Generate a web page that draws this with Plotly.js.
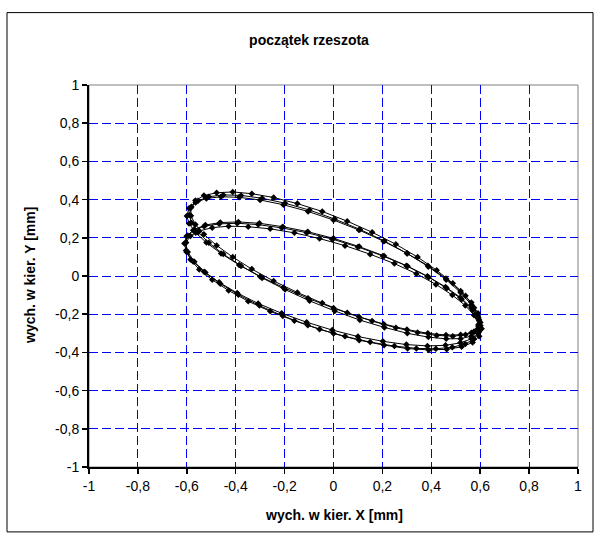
<!DOCTYPE html>
<html>
<head>
<meta charset="utf-8">
<script src="https://cdn.plot.ly/plotly-3.0.1.min.js"></script>
<style>html,body{margin:0;padding:0;background:#fff;}#chart{width:596px;height:536px;}</style>
</head>
<body>
<div id="chart"></div>
<script>
// Loop 1 (upper ellipse) - three passes
const loop1aX = [0.600,0.591,0.564,0.520,0.461,0.388,0.302,0.208,0.108,0.005,-0.098,-0.198,-0.292,-0.378,-0.451,-0.510,-0.554,-0.581,-0.590,-0.581,-0.554,-0.510,-0.451,-0.378,-0.292,-0.198,-0.098,0.005,0.108,0.208,0.302,0.388,0.461,0.520,0.564,0.591,0.600];
const loop1aY = [-0.260,-0.292,-0.315,-0.328,-0.329,-0.320,-0.300,-0.269,-0.231,-0.183,-0.130,-0.071,-0.010,0.053,0.115,0.174,0.229,0.279,0.320,0.362,0.394,0.415,0.4245,0.422,0.407,0.381,0.345,0.298,0.244,0.183,0.1175,0.049,-0.019,-0.087,-0.1505,-0.209,-0.260];
const loop1bX = [0.593,0.575,0.540,0.488,0.422,0.344,0.255,0.158,0.056,-0.046,-0.148,-0.245,-0.334,-0.412,-0.478,-0.530,-0.565,-0.583,-0.583,-0.565,-0.530,-0.478,-0.412,-0.334,-0.245,-0.148,-0.046,0.056,0.158,0.255,0.344,0.422,0.488,0.540,0.575,0.593,0.593];
const loop1bY = [-0.262,-0.290,-0.308,-0.315,-0.311,-0.296,-0.271,-0.236,-0.193,-0.142,-0.086,-0.026,0.036,0.099,0.160,0.218,0.270,0.315,0.357,0.395,0.421,0.436,0.440,0.431,0.411,0.379,0.338,0.287,0.229,0.166,0.099,0.030,-0.038,-0.104,-0.166,-0.220,-0.262];
const loop1cX = [0.600,0.591,0.564,0.520,0.460,0.386,0.300,0.205,0.104,0.000,-0.104,-0.205,-0.300,-0.386,-0.460,-0.520,-0.564,-0.591,-0.600,-0.591,-0.564,-0.520,-0.460,-0.386,-0.300,-0.205,-0.104,0.000,0.104,0.205,0.300,0.386,0.460,0.520,0.564,0.591,0.600];
const loop1cY = [-0.244,-0.275,-0.297,-0.308,-0.309,-0.300,-0.280,-0.251,-0.214,-0.168,-0.117,-0.060,-0.002,0.058,0.118,0.175,0.227,0.275,0.314,0.355,0.385,0.406,0.415,0.412,0.398,0.373,0.338,0.293,0.241,0.182,0.119,0.054,-0.013,-0.078,-0.139,-0.195,-0.244];
// Loop 2 (lower ellipse) - three passes
const loop2aX = [0.600,0.591,0.564,0.519,0.458,0.384,0.298,0.202,0.100,-0.005,-0.110,-0.212,-0.308,-0.394,-0.468,-0.529,-0.574,-0.601,-0.610,-0.601,-0.574,-0.529,-0.468,-0.394,-0.308,-0.212,-0.110,-0.005,0.100,0.202,0.298,0.384,0.458,0.519,0.564,0.591,0.600];
const loop2aY = [-0.260,-0.298,-0.329,-0.350,-0.363,-0.366,-0.359,-0.342,-0.317,-0.283,-0.242,-0.195,-0.144,-0.089,-0.033,0.022,0.076,0.126,0.170,0.208,0.239,0.260,0.273,0.276,0.269,0.252,0.227,0.193,0.152,0.105,0.054,-0.001,-0.057,-0.112,-0.166,-0.215,-0.260];
const loop2bX = [0.593,0.575,0.539,0.486,0.419,0.339,0.249,0.150,0.047,-0.057,-0.160,-0.259,-0.349,-0.429,-0.496,-0.549,-0.585,-0.603,-0.603,-0.585,-0.549,-0.496,-0.429,-0.349,-0.259,-0.160,-0.057,0.047,0.150,0.249,0.339,0.419,0.486,0.539,0.575,0.593,0.593];
const loop2bY = [-0.295,-0.330,-0.356,-0.373,-0.381,-0.379,-0.367,-0.346,-0.316,-0.279,-0.234,-0.185,-0.132,-0.076,-0.020,0.034,0.086,0.134,0.175,0.210,0.236,0.253,0.261,0.258,0.247,0.226,0.196,0.159,0.114,0.065,0.012,-0.044,-0.100,-0.154,-0.206,-0.254,-0.295];
const loop2cX = [0.605,0.596,0.569,0.524,0.463,0.389,0.303,0.207,0.105,0.000,-0.105,-0.207,-0.303,-0.389,-0.463,-0.524,-0.569,-0.596,-0.605,-0.596,-0.569,-0.524,-0.463,-0.389,-0.303,-0.207,-0.105,0.000,0.105,0.207,0.303,0.389,0.463,0.524,0.569,0.596,0.605];
const loop2cY = [-0.276,-0.316,-0.348,-0.371,-0.384,-0.387,-0.380,-0.362,-0.336,-0.301,-0.258,-0.209,-0.155,-0.098,-0.040,0.018,0.074,0.126,0.173,0.212,0.244,0.267,0.280,0.283,0.276,0.258,0.232,0.197,0.154,0.105,0.051,-0.006,-0.064,-0.122,-0.178,-0.230,-0.276];

const tickVals = [-1,-0.8,-0.6,-0.4,-0.2,0,0.2,0.4,0.6,0.8,1];
const tickText = ['-1','-0,8','-0,6','-0,4','-0,2','0','0,2','0,4','0,6','0,8','1'];

const titleText = 'początek rzeszota';
const xTitle = 'wych. w kier. X [mm]';
const yTitle = 'wych. w kier. Y [mm]';

const FONT = 'Liberation Sans, Arial, sans-serif';

function loopTrace(x, y) {
  return {
    x: x, y: y, type: 'scatter', mode: 'lines+markers',
    line: {color: '#000000', width: 1},
    marker: {symbol: 'diamond', size: 5, color: '#000000', line: {width: 0}},
    showlegend: false, hoverinfo: 'skip'
  };
}

const data = [
  loopTrace(loop1aX, loop1aY),
  loopTrace(loop1bX, loop1bY),
  loopTrace(loop1cX, loop1cY),
  loopTrace(loop2aX, loop2aY),
  loopTrace(loop2bX, loop2bY),
  loopTrace(loop2cX, loop2cY)
];

const L = 89, R = 578, T = 84.5, B = 467;
const W = 596, H = 536;
const pw = R - L, ph = B - T;

const axisCommon = {
  range: [-1, 1],
  tickmode: 'array',
  tickvals: tickVals,
  ticktext: tickText,
  ticks: 'outside',
  ticklen: 5,
  tickwidth: 1.5,
  tickcolor: '#000000',
  showline: true,
  linecolor: '#000000',
  linewidth: 2,
  showgrid: true,
  gridcolor: '#0000ff',
  gridwidth: 1,
  griddash: '9px,4px',
  zeroline: false,
  tickfont: {family: FONT, size: 14, color: '#000000'},
  fixedrange: true
};

const layout = {
  width: W, height: H,
  margin: {l: L, r: W - R, t: T, b: H - B, pad: 0},
  paper_bgcolor: '#ffffff',
  plot_bgcolor: '#ffffff',
  font: {family: FONT, color: '#000000'},
  title: {
    text: '<b>' + titleText + '</b>',
    font: {family: FONT, size: 14, color: '#000000'},
    x: 309 / W, xref: 'container', xanchor: 'center',
    y: 1 - 40 / H, yref: 'container', yanchor: 'middle'
  },
  xaxis: Object.assign({}, axisCommon),
  yaxis: Object.assign({}, axisCommon),
  annotations: [
    {text: '<b>' + xTitle + '</b>', xref: 'paper', yref: 'paper',
     x: 0.5, y: (B - 515) / ph, xanchor: 'center', yanchor: 'middle',
     showarrow: false, font: {family: FONT, size: 14, color: '#000000'}},
    {text: '<b>' + yTitle + '</b>', xref: 'paper', yref: 'paper',
     x: (30 - L) / pw, y: 0.5, xanchor: 'center', yanchor: 'middle', textangle: -90,
     showarrow: false, font: {family: FONT, size: 14, color: '#000000'}}
  ],
  shapes: [
    {type: 'rect', xref: 'paper', yref: 'paper', x0: 0, x1: 1, y0: 0, y1: 1,
     line: {color: '#808080', width: 1}, layer: 'below'},
    {type: 'rect', xref: 'paper', yref: 'paper',
     x0: (7 - L) / pw, x1: (593 - L) / pw,
     y0: (B - 532) / ph, y1: (B - 12) / ph,
     line: {color: '#000000', width: 1}}
  ]
};

Plotly.newPlot('chart', data, layout, {displayModeBar: false, staticPlot: true});
</script>
</body>
</html>
